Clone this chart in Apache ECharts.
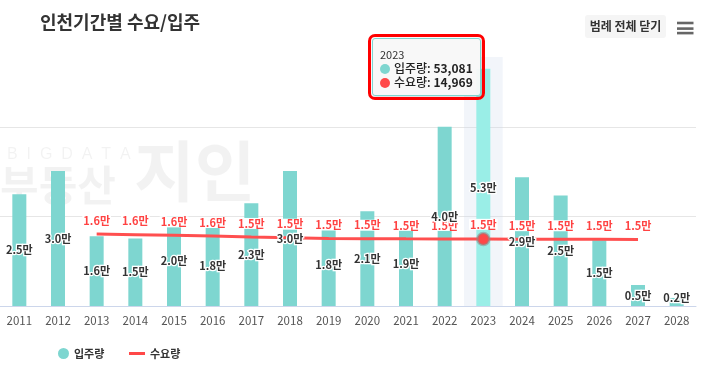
<!DOCTYPE html>
<html><head><meta charset="utf-8">
<script src="https://cdn.jsdelivr.net/npm/echarts@6/dist/echarts.min.js"></script>
<style>html,body{margin:0;padding:0;background:#fff}#c{width:703px;height:378px}</style>
</head><body><div id="c"></div>
<script>
// ---- data ----
const years = ['2011','2012','2013','2014','2015','2016','2017','2018','2019','2020','2021','2022','2023','2024','2025','2026','2027','2028'];
const supply = [25000, 30200, 15600, 15100, 20000, 18200, 23000, 30200, 18300, 21200, 19000, 40100, 53081, 28800, 24700, 14700, 4700, 1800];
const demand = [null, null, 16100, 15950, 15800, 15650, 15450, 15280, 15100, 15050, 15020, 15000, 14969, 14950, 14930, 14920, 14900, null];
const seriesNames = ['입주량', '수요량'];
const yMin = 0, yMax = 55700, yInterval = 20000;
const focusIndex = 12;

const FONT = '"Noto Sans CJK KR", "Noto Sans", sans-serif';
const C_BAR = '#7ed6d0', C_LINE = '#ff4848';
const seriesColors = [C_BAR, C_LINE];
const man = v => (v / 10000).toFixed(1) + '만';
const fmt = v => Number(v).toLocaleString('en-US');

const labelData = supply.map(v => v < 4000
  ? { value: v, label: { position: 'insideBottom', distance: 3 } }
  : v);

const barLabel = {
  show: true, position: 'inside', formatter: p => man(p.value),
  fontSize: 11, fontWeight: 'bold', color: '#333',
  textBorderColor: '#fff', textBorderWidth: 2.5, fontFamily: FONT
};

const chart = echarts.init(document.getElementById('c'), null, { renderer: 'canvas' });
chart.setOption({
  animation: false,
  textStyle: { fontFamily: FONT },
  title: {
    text: '인천기간별 수요/입주', left: 40, top: 13, padding: 0,
    textStyle: { fontSize: 18, fontWeight: 'bold', color: '#333', fontFamily: FONT }
  },
  legend: [
    { data: [{ name: seriesNames[0], icon: 'circle', itemStyle: { color: C_BAR } }], left: 58, top: 348, padding: 0, itemWidth: 11, itemHeight: 11,
      textStyle: { fontSize: 11, fontWeight: 'bold', color: '#333', fontFamily: FONT } },
    { data: [{ name: seriesNames[1], icon: 'rect', itemStyle: { color: C_LINE } }], left: 129, top: 348, padding: 0, itemWidth: 16, itemHeight: 3,
      textStyle: { fontSize: 11, fontWeight: 'bold', color: '#333', fontFamily: FONT } }
  ],
  grid: { left: 0, right: 7, top: 57, bottom: 72, outerBoundsMode: 'none' },
  tooltip: {
    trigger: 'axis',
    axisPointer: { type: 'shadow', z: 1, triggerEmphasis: false, shadowStyle: { color: 'rgba(204,214,235,0.25)' } },
    alwaysShowContent: true,
    transitionDuration: 0,
    position: [372, 38],
    backgroundColor: 'rgba(248,248,248,0.95)',
    borderColor: C_BAR,
    borderWidth: 1,
    padding: [8, 7, 6, 7],
    extraCssText: 'outline:3px solid #ff0000;outline-offset:1px;box-shadow:1px 1px 3px rgba(0,0,0,0.18);border-radius:3px;',
    formatter: function (params) {
      const ff = FONT.replace(/"/g, "'");
      const dot = c => '<span style="display:inline-block;width:10px;height:10px;border-radius:50%;background:' + c + ';margin-right:4px;vertical-align:-1px"></span>';
      let h = '<div style="font-size:11px;color:#333;line-height:14px;font-family:' + ff + '">' + params[0].axisValue + '</div>';
      params.forEach(p => {
        if (p.seriesIndex > 1 || p.value == null) return;
        h += '<div style="font-size:12px;color:#222;line-height:14px;font-weight:500;font-family:' + ff + '">' + dot(seriesColors[p.seriesIndex]) + p.seriesName + ': <b>' + fmt(p.value) + '</b></div>';
      });
      return h;
    }
  },
  xAxis: {
    type: 'category', data: years,
    axisTick: { show: false },
    axisLine: { lineStyle: { color: '#ccd6eb', width: 1 } },
    axisLabel: { fontSize: 11.5, color: '#555', margin: 9, fontFamily: FONT }
  },
  yAxis: {
    type: 'value', min: yMin, max: yMax, interval: yInterval,
    axisLabel: { show: false }, axisLine: { show: false }, axisTick: { show: false },
    splitLine: { show: true, showMaxLine: false, lineStyle: { color: '#e6e6e6', width: 1 } }
  },
  graphic: [
    { type: 'text', z: -10, silent: true, style: { text: 'B  I  G  D  A  T  A', x: 7, y: 147, fontSize: 16, fill: 'rgba(0,0,0,0.05)', fontFamily: 'Liberation Sans' } },
    { type: 'text', z: -10, silent: true, style: { text: '부동산', x: 0, y: 164, fontSize: 42, fontWeight: 'bold', fill: 'rgba(0,0,0,0.05)', fontFamily: FONT } },
    { type: 'text', z: -10, silent: true, style: { text: '지인', x: 134, y: 138, fontSize: 66, fontWeight: 'bold', fill: 'rgba(0,0,0,0.05)', fontFamily: FONT } },
    { type: 'rect', shape: { x: 585, y: 15, width: 81, height: 23, r: 3 }, style: { fill: '#f5f5f5' } },
    { type: 'text', style: { text: '범례 전체 닫기', x: 625.5, y: 26.5, align: 'center', verticalAlign: 'middle', fontSize: 12, fontWeight: 'bold', fill: '#333', fontFamily: FONT } },
    { type: 'rect', shape: { x: 677, y: 21.7, width: 16.5, height: 2.6 }, style: { fill: '#666' } },
    { type: 'rect', shape: { x: 677, y: 27.3, width: 16.5, height: 2.6 }, style: { fill: '#666' } },
    { type: 'rect', shape: { x: 677, y: 31.8, width: 16.5, height: 2.6 }, style: { fill: '#666' } }
  ],
  series: [
    {
      name: seriesNames[0], type: 'bar', data: supply, barWidth: 14, barGap: '-100%',
      itemStyle: { color: C_BAR },
      emphasis: { focus: 'none', itemStyle: { color: '#9aeee7' } },
      label: { show: false },
      z: 2
    },
    {
      name: seriesNames[1], type: 'line', data: demand,
      symbol: 'circle', symbolSize: 12, showSymbol: true,
      itemStyle: { color: 'rgba(0,0,0,0)', borderWidth: 0 },
      lineStyle: { color: C_LINE, width: 3 },
      emphasis: { focus: 'none', scale: false, lineStyle: { width: 3 }, itemStyle: { color: C_LINE, borderColor: 'rgba(140,140,140,0.55)', borderWidth: 2.5 },
        label: { color: '#ff4242' } },
      label: {
        show: true, position: 'top', distance: 2, formatter: p => man(p.value),
        fontSize: 11, fontWeight: 'bold', color: '#ff4242',
        backgroundColor: '#fff', padding: [0, 1], fontFamily: FONT
      },
      z: 3
    },
    {
      name: seriesNames[0] + '_label', type: 'bar', data: labelData, barWidth: 14, barGap: '-100%',
      silent: true,
      itemStyle: { color: 'rgba(0,0,0,0)' },
      emphasis: { focus: 'none', itemStyle: { color: 'rgba(0,0,0,0)' }, label: { color: '#333' } },
      label: barLabel,
      z: 4
    }
  ]
});
chart.dispatchAction({ type: 'showTip', seriesIndex: 0, dataIndex: focusIndex });
chart.dispatchAction({ type: 'highlight', seriesIndex: [0, 1], dataIndex: focusIndex });
</script>
</body></html>
